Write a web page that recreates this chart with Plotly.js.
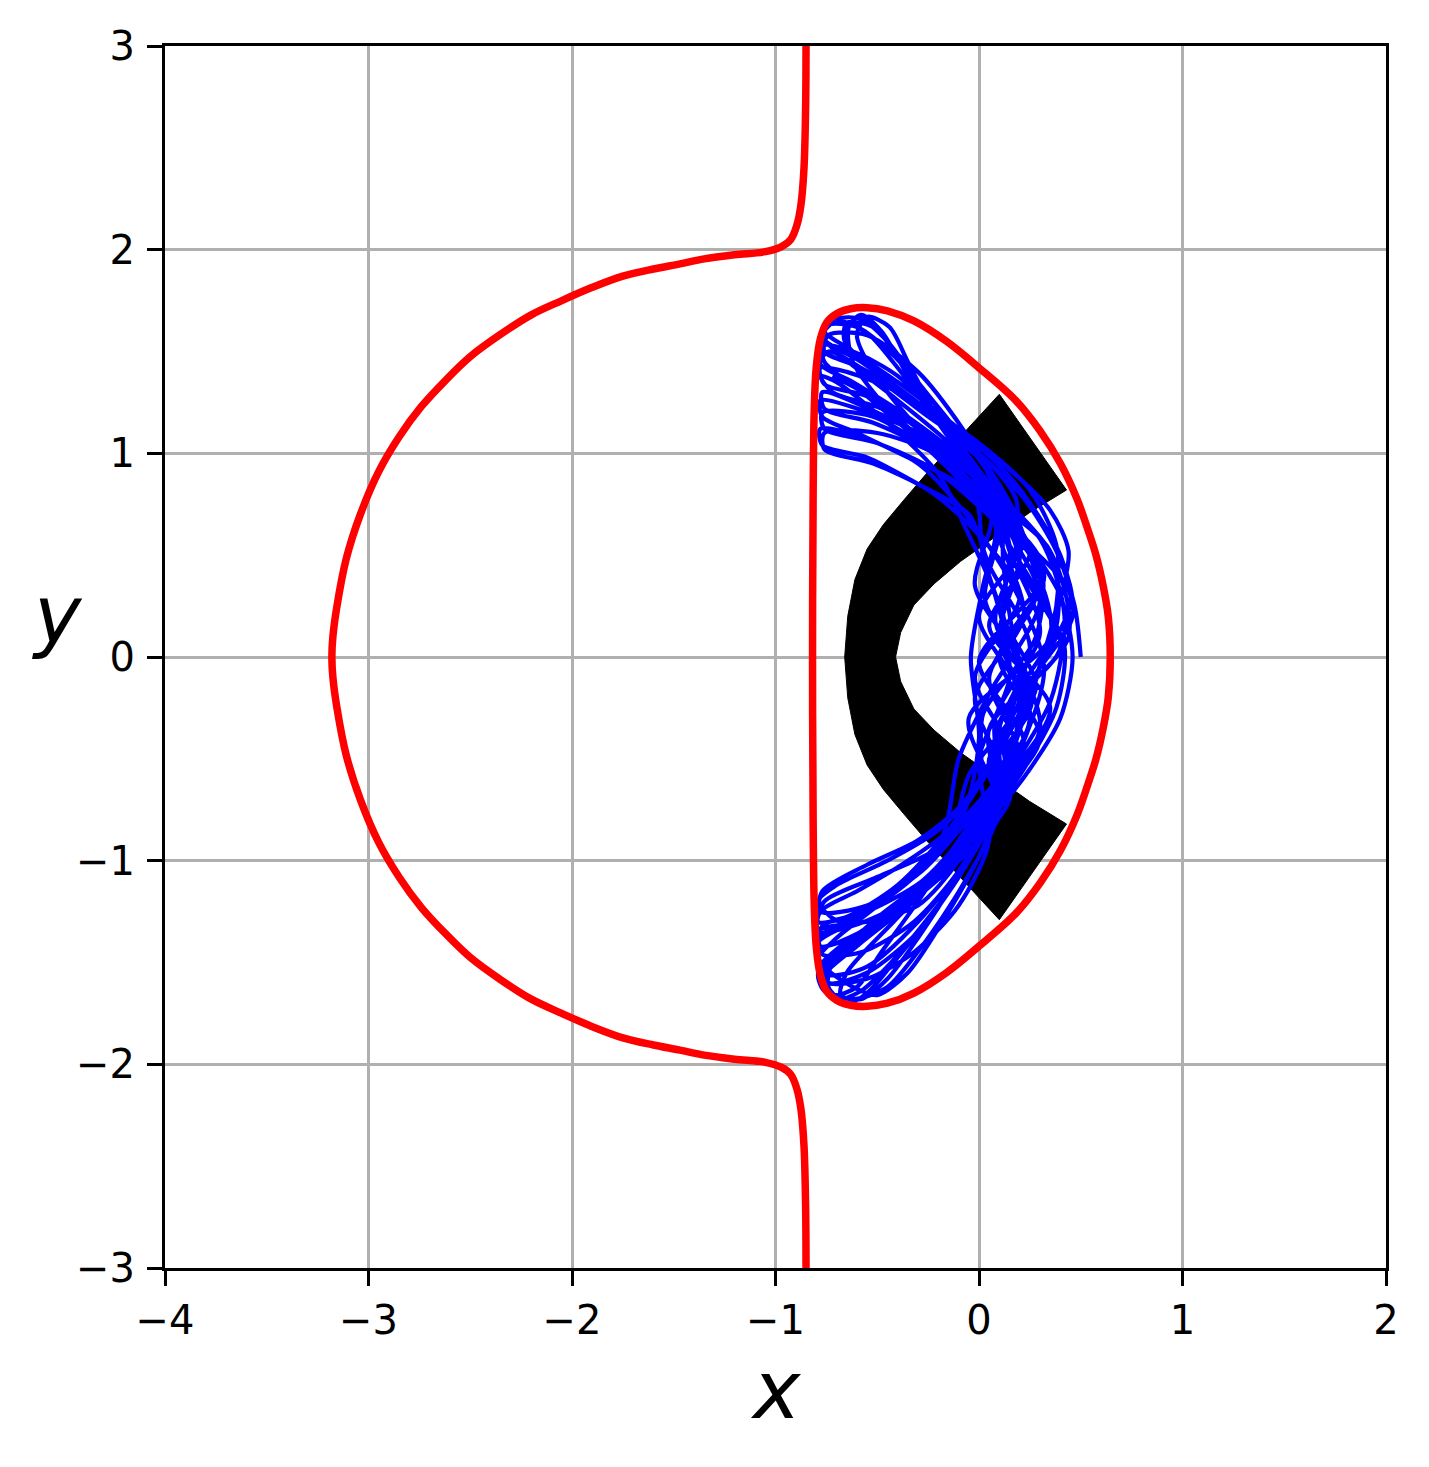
<!DOCTYPE html>
<html>
<head>
<meta charset="utf-8">
<script src="https://cdn.plot.ly/plotly-3.0.1.min.js"></script>
<style>
  html, body { margin: 0; padding: 0; background: #fff; }
  #chart { width: 1429px; height: 1467px; }
</style>
</head>
<body>
<div id="chart"></div>
<script>
// zero-velocity curve, outer branch (top to bottom)
const redOuter = [
  [-0.850, 3.00], [-0.852, 2.70], [-0.860, 2.40], [-0.875, 2.22], [-0.895, 2.12],
  [-0.925, 2.05], [-0.970, 2.015], [-1.05, 1.99], [-1.20, 1.975], [-1.35, 1.955],
  [-1.47, 1.93], [-1.60, 1.905], [-1.75, 1.87], [-1.90, 1.815], [-2.05, 1.75],
  [-2.20, 1.68], [-2.35, 1.585], [-2.50, 1.475], [-2.62, 1.36], [-2.74, 1.23],
  [-2.85, 1.08], [-2.95, 0.91], [-3.04, 0.70], [-3.11, 0.48], [-3.155, 0.25],
  [-3.175, 0.10], [-3.18, 0.00], [-3.175, -0.10], [-3.155, -0.25], [-3.11, -0.48],
  [-3.04, -0.70], [-2.95, -0.91], [-2.85, -1.08], [-2.74, -1.23], [-2.62, -1.36],
  [-2.50, -1.475], [-2.35, -1.585], [-2.20, -1.68], [-2.05, -1.75], [-1.90, -1.815],
  [-1.75, -1.87], [-1.60, -1.905], [-1.47, -1.93], [-1.35, -1.955], [-1.20, -1.975],
  [-1.05, -1.99], [-0.970, -2.015], [-0.925, -2.05], [-0.895, -2.12], [-0.875, -2.22],
  [-0.860, -2.40], [-0.852, -2.70], [-0.850, -3.00]
];

// zero-velocity curve, inner closed branch
const redInner = [
  [0.645, 0.00], [0.635, 0.20], [0.61, 0.35], [0.575, 0.50], [0.53, 0.64],
  [0.48, 0.78], [0.40, 0.95], [0.30, 1.11], [0.18, 1.26], [0.00, 1.42],
  [-0.16, 1.55], [-0.32, 1.65], [-0.45, 1.70], [-0.55, 1.715], [-0.63, 1.71],
  [-0.70, 1.685], [-0.75, 1.64], [-0.78, 1.56], [-0.80, 1.42], [-0.81, 1.20],
  [-0.815, 0.80], [-0.818, 0.00], [-0.815, -0.80], [-0.81, -1.20], [-0.80, -1.42],
  [-0.78, -1.56], [-0.75, -1.64], [-0.70, -1.685], [-0.63, -1.71], [-0.55, -1.715],
  [-0.45, -1.70], [-0.32, -1.65], [-0.16, -1.55], [0.00, -1.42], [0.18, -1.26],
  [0.30, -1.11], [0.40, -0.95], [0.48, -0.78], [0.53, -0.64], [0.575, -0.50],
  [0.61, -0.35], [0.635, -0.20], [0.645, 0.00]
];

// band of regular orbits (outline)
const blackBand = [
  [0.10, 1.29], [-0.02, 1.16], [-0.10, 1.07], [-0.18, 0.985], [-0.25, 0.91],
  [-0.37, 0.77], [-0.47, 0.65], [-0.55, 0.53], [-0.61, 0.38], [-0.645, 0.20],
  [-0.66, 0.00], [-0.645, -0.20], [-0.61, -0.38], [-0.55, -0.53], [-0.47, -0.65],
  [-0.37, -0.77], [-0.25, -0.91], [-0.18, -0.985], [-0.10, -1.07], [-0.02, -1.16],
  [0.10, -1.29], [0.43, -0.82], [0.25, -0.71], [0.08, -0.59], [-0.09, -0.47],
  [-0.22, -0.36], [-0.32, -0.255], [-0.385, -0.12], [-0.41, 0.00], [-0.385, 0.12],
  [-0.32, 0.255], [-0.22, 0.36], [-0.09, 0.47], [0.08, 0.59], [0.25, 0.71],
  [0.43, 0.82], [0.10, 1.29]
];

// chaotic orbit
const bluePath = [
  [0.50,0.00],[0.47,0.25],[0.38,0.52],[0.22,0.78],[0.00,1.00],[-0.30,1.25],[-0.58,1.45],[-0.76,1.56],[-0.74,1.63],[-0.60,1.62],
  [-0.42,1.48],[-0.20,1.22],[0.02,0.95],[0.15,0.62],[0.30,0.28],[0.05,-0.18],[-0.10,-0.50],[-0.18,-0.88],[-0.45,-1.18],[-0.70,-1.38],
  [-0.79,-1.48],[-0.74,-1.56],[-0.55,-1.52],[-0.30,-1.30],[-0.05,-0.98],[0.12,-0.62],[0.35,-0.22],[0.42,0.20],[0.30,0.58],[-0.02,0.88],
  [-0.30,1.10],[-0.60,1.22],[-0.78,1.26],[-0.77,1.18],[-0.60,1.10],[-0.35,0.98],[-0.10,0.85],[0.08,0.65],[0.02,0.35],[-0.04,0.00],
  [0.00,-0.40],[-0.08,-0.78],[-0.32,-1.08],[-0.62,-1.30],[-0.79,-1.40],[-0.78,-1.50],[-0.62,-1.62],[-0.50,-1.66],[-0.35,-1.55],[-0.18,-1.30],
  [0.00,-0.98],[0.15,-0.60],[0.22,-0.18],[0.46,0.20],[0.40,0.50],[0.18,0.85],[-0.10,1.12],[-0.40,1.35],[-0.65,1.52],[-0.76,1.60],
  [-0.70,1.66],[-0.58,1.66],[-0.45,1.55],[-0.30,1.35],[-0.10,1.10],[0.08,0.85],[0.20,0.50],[0.10,0.10],[0.25,-0.30],[0.05,-0.68],
  [-0.15,-0.98],[-0.42,-1.22],[-0.68,-1.45],[-0.78,-1.58],[-0.72,-1.66],[-0.60,-1.62],[-0.48,-1.45],[-0.30,-1.20],[-0.10,-0.90],[0.18,-0.50],
  [0.32,-0.05],[0.15,0.38],[-0.08,0.72],[-0.30,0.95],[-0.58,1.08],[-0.78,1.12],[-0.77,1.04],[-0.55,0.98],[-0.30,0.85],[-0.05,0.70],
  [0.05,0.45],[0.25,0.05],[0.10,-0.35],[0.10,-0.70],[-0.12,-1.00],[-0.40,-1.25],[-0.66,-1.45],[-0.79,-1.55],[-0.76,-1.64],[-0.62,-1.68],
  [-0.45,-1.62],[-0.28,-1.42],[-0.08,-1.12],[0.10,-0.75],[0.05,-0.35],[0.40,0.05],[0.20,0.45],[0.18,0.78],[0.00,1.00],[-0.25,1.18],
  [-0.52,1.38],[-0.74,1.50],[-0.78,1.44],[-0.62,1.35],[-0.38,1.20],[-0.12,1.00],[0.08,0.72],[0.30,0.38],[0.00,-0.02],[0.22,-0.42],
  [-0.04,-0.78],[-0.28,-1.05],[-0.55,-1.22],[-0.78,-1.25],[-0.77,-1.15],[-0.55,-1.02],[-0.30,-0.90],[-0.08,-0.72],[0.10,-0.42],[0.20,-0.05],
  [-0.02,0.35],[0.06,0.70],[-0.12,0.95],[-0.35,1.18],[-0.52,1.40],[-0.60,1.58],[-0.55,1.67],[-0.44,1.62],[-0.35,1.45],[-0.22,1.20],
  [-0.04,0.92],[0.12,0.60],[0.30,0.30],[0.42,0.05],[0.38,-0.25],[0.22,-0.55],[0.00,-0.85],[-0.25,-1.10],[-0.52,-1.32],[-0.76,-1.52],
  [-0.74,-1.60],[-0.55,-1.58],[-0.32,-1.45],[-0.10,-1.22],[0.05,-0.90],[0.00,-0.50],[0.15,-0.10],[0.08,0.30],[-0.06,0.62],[-0.20,0.90],
  [-0.45,1.15],[-0.70,1.35],[-0.78,1.38],[-0.72,1.30],[-0.48,1.22],[-0.22,1.08],[0.02,0.88],[0.18,0.62],[0.45,0.30],[0.30,-0.05],
  [0.12,-0.40],[0.15,-0.70],[-0.05,-0.95],[-0.32,-1.18],[-0.62,-1.32],[-0.79,-1.35],[-0.78,-1.25],[-0.60,-1.15],[-0.38,-1.02],[-0.15,-0.85],
  [0.02,-0.58],[0.26,-0.22],[0.08,0.18],[0.18,0.55],[-0.05,0.82],[-0.28,1.05],[-0.55,1.28],[-0.76,1.45],[-0.77,1.53],[-0.62,1.50],
  [-0.40,1.38],[-0.18,1.15],[0.05,0.85],[0.25,0.55],[0.40,0.30],[0.46,0.00],[0.40,-0.30],[0.25,-0.55],[0.05,-0.80],[-0.20,-1.05],
  [-0.50,-1.28],[-0.72,-1.50],[-0.74,-1.62],[-0.65,-1.70],[-0.55,-1.65],[-0.42,-1.50],[-0.22,-1.25],[-0.02,-0.95],[0.12,-0.60],[-0.02,-0.20],
  [0.22,0.20],[0.10,0.58],[0.02,0.85],[-0.22,1.05],[-0.50,1.20],[-0.77,1.30],[-0.76,1.22],[-0.52,1.15],[-0.25,1.02],[0.00,0.82],
  [0.35,0.52],[0.38,0.15],[0.15,-0.25],[0.12,-0.60],[-0.05,-0.90],[-0.30,-1.15],[-0.58,-1.35],[-0.78,-1.42],[-0.77,-1.32],[-0.55,-1.25],
  [-0.28,-1.10],[-0.05,-0.85],[0.20,-0.50],[0.05,-0.10],[0.28,0.30],[0.20,0.65],[0.05,0.92],[-0.20,1.15],[-0.45,1.35],[-0.66,1.55],
  [-0.65,1.64],[-0.52,1.62],[-0.40,1.48],[-0.25,1.25],[-0.05,0.98],[0.10,0.65],[0.03,0.28],[0.24,-0.12],[0.08,-0.50],[-0.15,-0.85],
  [-0.40,-1.12],[-0.66,-1.28],[-0.79,-1.30],[-0.76,-1.20],[-0.50,-1.08],[-0.22,-0.95],[0.00,-0.75],[0.15,-0.45],[0.28,-0.10],[0.38,0.25],
  [0.38,0.55],[0.25,0.82],[0.00,1.05],[-0.30,1.25],[-0.58,1.42],[-0.76,1.50],[-0.74,1.58],[-0.55,1.58],[-0.30,1.40],[-0.08,1.12],
  [0.10,0.82],[0.12,0.45],[0.18,0.05],[0.30,-0.35],[0.10,-0.68],[-0.10,-0.98],[-0.35,-1.22],[-0.60,-1.42],[-0.77,-1.58],[-0.70,-1.68],
  [-0.58,-1.64],[-0.45,-1.52],[-0.28,-1.32],[-0.08,-1.05],[0.08,-0.70],[-0.05,-0.30],[0.35,0.10],[0.25,0.50],[0.02,0.80],[-0.22,1.00],
  [-0.50,1.10],[-0.76,1.10],[-0.76,1.02],[-0.52,0.95],[-0.25,0.82],[-0.02,0.62],[0.20,0.30],[-0.02,-0.10],[0.15,-0.48],[-0.10,-0.82],
  [-0.35,-1.08],[-0.62,-1.28],[-0.79,-1.38],[-0.77,-1.46],[-0.58,-1.45],[-0.32,-1.30],[-0.10,-1.05],[0.08,-0.72],[0.10,-0.32],[0.44,0.10],
  [0.36,0.50],[0.08,0.82],[-0.18,1.08],[-0.45,1.30],[-0.68,1.48],[-0.77,1.58],[-0.70,1.65],[-0.56,1.60],[-0.40,1.42],[-0.20,1.15],
  [0.00,0.88],[0.15,0.55],[0.12,0.20],[0.28,-0.15],[0.05,-0.50],[0.10,-0.78],[-0.12,-1.02],[-0.40,-1.25],[-0.68,-1.40],[-0.79,-1.42],
  [-0.78,-1.34],[-0.55,-1.30],[-0.30,-1.22],[-0.10,-1.00],[0.05,-0.70],[0.25,-0.32],[0.15,0.10],[0.02,0.50],[-0.02,0.80],[-0.25,1.02],
  [-0.52,1.18],[-0.77,1.20],[-0.76,1.12],[-0.50,1.05],[-0.22,0.92],[0.02,0.72],[0.32,0.40],[0.10,0.00],[0.30,-0.40],[0.05,-0.74],
  [-0.15,-1.02],[-0.42,-1.30],[-0.65,-1.55],[-0.68,-1.66],[-0.58,-1.68],[-0.45,-1.58],[-0.30,-1.38],[-0.12,-1.10],[0.05,-0.78],[0.18,-0.42],
  [0.30,-0.05],[0.40,0.28],[0.44,0.52],[0.35,0.72],[0.15,0.92],[-0.12,1.12],[-0.40,1.30],[-0.65,1.40],[-0.78,1.42],[-0.76,1.34],
  [-0.55,1.28],[-0.30,1.12],[-0.08,0.90],[0.22,0.58],[0.00,0.20],[0.20,-0.20],[-0.05,-0.58],[-0.15,-0.90],[-0.42,-1.15],[-0.68,-1.30],
  [-0.79,-1.20],[-0.70,-1.12],[-0.45,-1.00],[-0.20,-0.85],[0.00,-0.62],[0.02,-0.28],[0.28,0.10],[0.30,0.48],[0.02,0.78],[-0.20,1.00],
  [-0.45,1.22],[-0.62,1.45],[-0.64,1.62],[-0.58,1.68],[-0.48,1.60],[-0.36,1.40],[-0.18,1.12],[0.02,0.85],[0.25,0.52],[0.05,0.15],
  [0.35,-0.25],[0.12,-0.62],[-0.12,-0.95],[-0.40,-1.22],[-0.68,-1.42],[-0.78,-1.52],[-0.74,-1.60],[-0.55,-1.55],[-0.30,-1.35],[-0.08,-1.05],
  [0.10,-0.70],[0.08,-0.30],[0.30,0.12],[0.15,0.52],[0.05,0.82],[-0.20,1.05],[-0.48,1.25],[-0.72,1.38]
];

const xTicks = [-4, -3, -2, -1, 0, 1, 2];
const yTicks = [-3, -2, -1, 0, 1, 2, 3];

function xs(pts) { return pts.map((p) => p[0]); }
function ys(pts) { return pts.map((p) => p[1]); }

const traces = [
  {
    x: xs(blackBand), y: ys(blackBand),
    type: "scatter", mode: "lines", fill: "toself",
    fillcolor: "#000000", line: { color: "#000000", width: 1 },
    hoverinfo: "skip"
  },
  {
    x: xs(bluePath), y: ys(bluePath),
    type: "scatter", mode: "lines",
    line: { color: "#0000ff", width: 4.2, shape: "spline", smoothing: 0.8, simplify: false },
    hoverinfo: "skip"
  },
  {
    x: xs(redOuter), y: ys(redOuter),
    type: "scatter", mode: "lines",
    line: { color: "#ff0000", width: 7.5, shape: "spline", smoothing: 1, simplify: false },
    hoverinfo: "skip"
  },
  {
    x: xs(redInner), y: ys(redInner),
    type: "scatter", mode: "lines",
    line: { color: "#ff0000", width: 7.5, shape: "spline", smoothing: 1, simplify: false },
    hoverinfo: "skip"
  }
];

const axisCommon = {
  showgrid: true, gridcolor: "#b0b0b0", gridwidth: 3,
  zeroline: false, showline: true, linecolor: "#000000", linewidth: 3, mirror: true,
  ticks: "outside", ticklen: 15, tickwidth: 3, tickcolor: "#000000",
  tickfont: { family: "DejaVu Sans", size: 40, color: "#000000" },
  tickmode: "array", fixedrange: true
};

const layout = {
  width: 1429, height: 1467,
  margin: { l: 165, r: 43, t: 46, b: 199 },
  paper_bgcolor: "#ffffff", plot_bgcolor: "#ffffff",
  showlegend: false,
  xaxis: Object.assign({}, axisCommon, {
    range: [-4, 2], tickvals: xTicks, ticklabelstandoff: 0
  }),
  yaxis: Object.assign({}, axisCommon, {
    range: [-3, 3], tickvals: yTicks, ticklabelstandoff: 4
  }),
  annotations: [
    {
      text: "<i>x</i>", xref: "paper", yref: "paper",
      x: 0.5, y: -0.1, xanchor: "center", yanchor: "middle",
      showarrow: false, font: { family: "DejaVu Sans", size: 80, color: "#000000" }
    },
    {
      text: "<i>y</i>", xref: "paper", yref: "paper",
      x: -0.088, y: 0.535, xanchor: "center", yanchor: "middle",
      showarrow: false, font: { family: "DejaVu Sans", size: 80, color: "#000000" }
    }
  ]
};

Plotly.newPlot("chart", traces, layout, { displayModeBar: false, staticPlot: true });
</script>
</body>
</html>
